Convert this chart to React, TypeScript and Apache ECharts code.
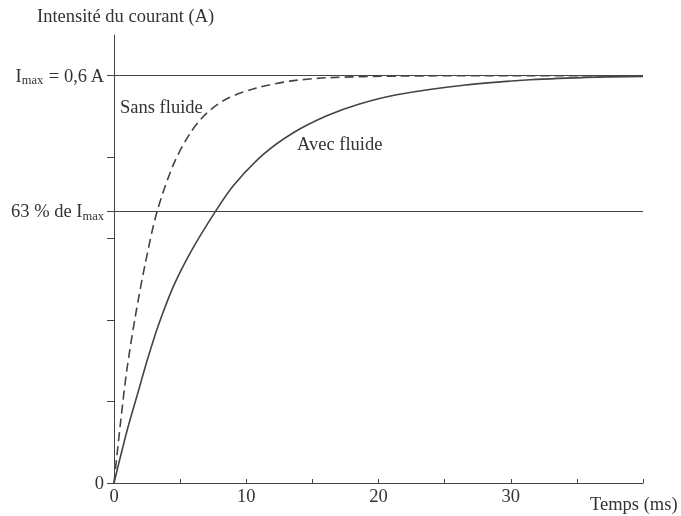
import React, { useEffect, useRef } from "react";
import * as echarts from "echarts";

const sansT = [0, 0.5, 0.96, 1.59, 2.34, 3.23, 4.49, 5.75, 7.01, 8.53, 10.79, 13.31, 16.09, 21.6, 30, 40];
const sansI = [0, 0.09, 0.165, 0.243, 0.321, 0.398, 0.469, 0.515, 0.545, 0.566, 0.582, 0.592, 0.597, 0.5995, 0.6, 0.6];

const avecT = [0, 1, 1.72, 2.5, 3.35, 4.5, 5.88, 7.6, 9.02, 11.29, 13.56, 16.09, 18.5, 21.38, 26.42, 31.47, 36.5, 40];
const avecI = [0, 0.078, 0.127, 0.18, 0.232, 0.29, 0.343, 0.398, 0.438, 0.484, 0.516, 0.541, 0.558, 0.572, 0.586, 0.594, 0.598, 0.599];

const yTicks = [0, 0.12, 0.24, 0.36, 0.4, 0.48, 0.6];
const yLabelValues = [0, 0.4, 0.6];
const xLabelValues = [0, 10, 20, 30];
const imax = 0.6;
const level63 = 0.4;

const FONT = "Liberation Serif";
const FS = 18.5;
const TEXT = "#333";
const LINE = "#444";

export default function App() {
  const ref = useRef<HTMLDivElement>(null);
  useEffect(() => {
    if (!ref.current) return;
    const chart = echarts.init(ref.current, null, { renderer: "svg" });
    const pair = (t: number[], v: number[]) => t.map((x, i) => [x, v[i]]);
    chart.setOption({
      animation: false,
      textStyle: { fontFamily: FONT },
      grid: { left: 114, right: 38, top: 35, bottom: 33, containLabel: false },
      xAxis: {
        type: "value",
        min: 0,
        max: 40,
        interval: 5,
        axisLine: { lineStyle: { color: LINE, width: 1 } },
        axisTick: { inside: true, length: 4, lineStyle: { color: LINE } },
        splitLine: { show: false },
        axisLabel: {
          margin: 3,
          color: TEXT,
          fontFamily: FONT,
          fontSize: FS,
          formatter: (v: number) => (xLabelValues.includes(v) ? String(v) : ""),
        },
      },
      yAxis: {
        type: "value",
        min: 0,
        max: 0.66,
        interval: 0.12,
        axisLine: { show: true, lineStyle: { color: LINE, width: 1 } },
        axisTick: { show: true, length: 7, customValues: yTicks, lineStyle: { color: LINE } },
        splitLine: { show: false },
        axisLabel: {
          customValues: yLabelValues,
          margin: 10,
          color: TEXT,
          fontFamily: FONT,
          fontSize: FS,
          formatter: (v: number) => {
            if (Math.abs(v - imax) < 1e-6) return "{n|I}{s|max}{n| = 0,6 A}";
            if (Math.abs(v - level63) < 1e-6) return "{n|63 % de I}{s|max}";
            if (v === 0) return "{n|0}";
            return "";
          },
          rich: {
            n: { fontFamily: FONT, fontSize: FS, color: TEXT, lineHeight: 20 },
            s: { fontFamily: FONT, fontSize: 12.5, color: TEXT, padding: [9, 0, 0, 0] },
          },
        },
      },
      graphic: [
        { type: "text", left: 37, top: 6, style: { text: "Intensité du courant (A)", font: `${FS}px "${FONT}"`, fill: TEXT } },
        { type: "text", left: 590, top: 494, style: { text: "Temps (ms)", font: `${FS}px "${FONT}"`, fill: TEXT } },
        { type: "text", left: 120, top: 97, style: { text: "Sans fluide", font: `${FS}px "${FONT}"`, fill: TEXT } },
        { type: "text", left: 297, top: 134, style: { text: "Avec fluide", font: `${FS}px "${FONT}"`, fill: TEXT } },
      ],
      series: [
        {
          type: "line",
          name: "Sans fluide",
          data: pair(sansT, sansI),
          showSymbol: false,
          smooth: 0.3,
          lineStyle: { color: LINE, width: 1.6, type: [9, 5] },
          markLine: {
            silent: true,
            symbol: ["none", "none"],
            label: { show: false },
            lineStyle: { color: LINE, width: 1, type: "solid" },
            data: [{ yAxis: imax }, { yAxis: level63 }],
          },
        },
        {
          type: "line",
          name: "Avec fluide",
          data: pair(avecT, avecI),
          showSymbol: false,
          smooth: 0.3,
          lineStyle: { color: LINE, width: 1.6 },
        },
      ],
    });
    return () => chart.dispose();
  }, []);
  return <div ref={ref} style={{ position: "fixed", left: 0, top: 0, width: 681, height: 516 }} />;
}
